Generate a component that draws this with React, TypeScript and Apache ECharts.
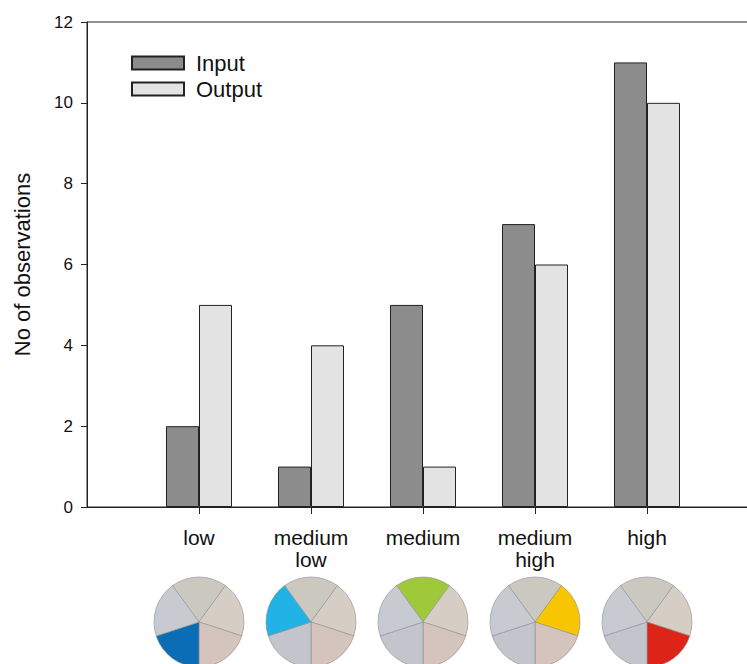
import { useEffect, useRef } from 'react';
import * as echarts from 'echarts';

const categories = ['', 'low', 'medium\nlow', 'medium', 'medium\nhigh', 'high', ''];
const inputValues = [null, 2, 1, 5, 7, 11, null];
const outputValues = [null, 5, 4, 1, 6, 10, null];
const seriesNames = ['Input', 'Output'];
const yAxisName = 'No of observations';
// pie slices clockwise from the top slice
const sliceNames = ['top', 'upper right', 'lower right', 'lower left', 'upper left'];
const sliceShares = [1, 1, 1, 1, 1];
const sliceBaseColors = ['#cbc8c0', '#d6cec4', '#d5c4be', '#c3c4cc', '#c7cbd1'];
// for each category (low..high): which slice is coloured, and its colour
const highlightedSlice = [3, 4, 0, 1, 2];
const highlightColors = ['#0b6db5', '#22b3e6', '#a0c83b', '#f7c600', '#dc2419'];

const FONT = 'Liberation Sans, Arial, sans-serif';

export default function App() {
  const ref = useRef<HTMLDivElement>(null);
  useEffect(() => {
    if (!ref.current) return;
    const chart = echarts.init(ref.current, undefined, { renderer: 'svg' });
    const base: any = {
      animation: false,
      backgroundColor: '#ffffff',
      textStyle: { fontFamily: FONT },
      grid: {
        left: 87, top: 22, width: 672, height: 485,
        outerBoundsMode: 'none', containLabel: false,
        show: true, borderColor: '#222', borderWidth: 1, backgroundColor: 'transparent',
      },
      legend: {
        orient: 'vertical', left: 131, top: 52, padding: 0, itemWidth: 52, itemHeight: 13, itemGap: 4,
        icon: 'rect',
        data: seriesNames,
        textStyle: { fontSize: 22, lineHeight: 22, color: '#111', fontFamily: FONT, padding: [0, 0, 0, 7] },
      },
      xAxis: {
        type: 'category', data: categories, boundaryGap: false,
        axisLine: { lineStyle: { color: '#222', width: 1 } },
        axisTick: {
          show: true, inside: false, length: 7, lineStyle: { color: '#222' },
          interval: (i: number) => i >= 1 && i <= 5,
        },
        axisLabel: { interval: 0, fontSize: 21, color: '#111', margin: 19, lineHeight: 22, fontFamily: FONT },
        splitLine: { show: false },
      },
      yAxis: {
        type: 'value', min: 0, max: 12, interval: 2,
        name: yAxisName, nameLocation: 'middle', nameGap: 54, nameRotate: 90,
        nameTextStyle: { fontSize: 22, color: '#111', fontFamily: FONT },
        axisLine: { show: true, lineStyle: { color: '#222', width: 1 } },
        axisTick: { show: true, inside: false, length: 6, lineStyle: { color: '#222' } },
        axisLabel: { fontSize: 17, color: '#111', margin: 14, fontFamily: FONT },
        splitLine: { show: false },
      },
      series: [
        {
          name: seriesNames[0], type: 'bar', data: inputValues, barWidth: 33, barGap: '0%',
          itemStyle: { color: '#8c8c8c', borderColor: '#222', borderWidth: 1 },
        },
        {
          name: seriesNames[1], type: 'bar', data: outputValues, barWidth: 33, barGap: '0%',
          itemStyle: { color: '#e3e3e3', borderColor: '#222', borderWidth: 1 },
        },
      ],
    };
    chart.setOption(base);
    const pies = highlightedSlice.map((hi, k) => {
      const x = chart.convertToPixel({ xAxisIndex: 0 }, k + 1) as number;
      return {
        type: 'pie', silent: true, radius: 45, center: [x, 622],
        startAngle: 126, clockwise: true, label: { show: false }, labelLine: { show: false },
        data: sliceNames.map((n, j) => ({
          name: n, value: sliceShares[j],
          itemStyle: { color: j === hi ? highlightColors[k] : sliceBaseColors[j], borderColor: '#8f8f8f', borderWidth: 0.6 },
        })),
      };
    });
    chart.setOption({ series: [...base.series, ...pies] });
    return () => chart.dispose();
  }, []);
  return <div ref={ref} style={{ position: 'fixed', left: 0, top: 0, width: 747, height: 664 }} />;
}
